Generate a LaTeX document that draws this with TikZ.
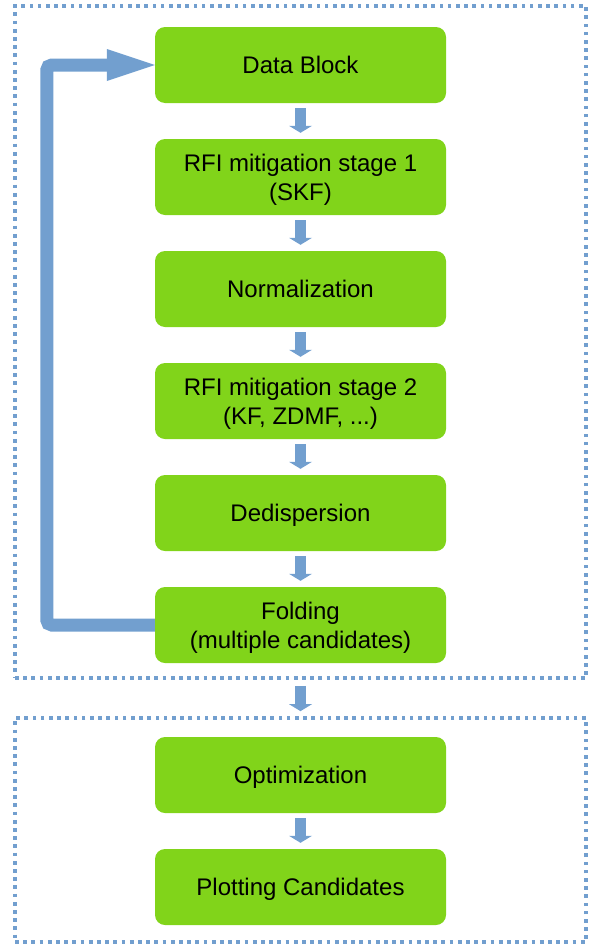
\documentclass[tikz,border=0pt]{standalone}
\usepackage{fontspec}
\setmainfont{Liberation Sans}
\usetikzlibrary{arrows.meta}
\definecolor{stagegreen}{HTML}{81D41A}
\definecolor{flowblue}{HTML}{729FCF}
% centred stage label, lines 29.5pt apart, inked 3pt below its nominal place
\newcommand\stagelabel[1]{\raisebox{-3pt}[\height][\depth]{\begin{tabular}{@{}c@{}}#1\end{tabular}}}

\begin{document}
\begin{tikzpicture}[x=1pt,y=-1pt,
  stagebox/.style={fill=stagegreen, rounded corners=10pt, minimum width=291pt,
    minimum height=76pt, inner sep=0pt,
    font=\fontsize{24}{29.5}\selectfont},
  groupframe/.style={draw=flowblue, line width=3.7pt, dash pattern=on 3.7pt off 4.5pt,
    inner sep=0pt},
  stepflow/.style={draw=flowblue, line width=11pt,
    -{Triangle[length=7pt,width=23pt,line width=0pt]}, shorten <=5pt, shorten >=6pt},
  loopflow/.style={draw=flowblue, line width=13pt, rounded corners=5pt,
    -{Triangle[length=48pt,width=32pt,line width=0pt]}},
]
\useasboundingbox (0,0) rectangle (594,945);

% processing pipeline and post-processing frames
\node[groupframe, minimum width=571pt, minimum height=672pt] (pipe) at (300.5,342) {};
\node[groupframe, minimum width=571pt, minimum height=224pt] (post) at (300.5,830) {};

% stages
\node[stagebox] (data) at (300.5,65)  {\stagelabel{Data Block}};
\node[stagebox] (rfi1) at (300.5,177) {\stagelabel{RFI mitigation stage 1\\(SKF)}};
\node[stagebox] (norm) at (300.5,289) {\stagelabel{Normalization}};
\node[stagebox] (rfi2) at (300.5,401) {\stagelabel{RFI mitigation stage 2\\(KF, ZDMF, ...)}};
\node[stagebox] (dedi) at (300.5,513) {\stagelabel{Dedispersion}};
\node[stagebox] (fold) at (300.5,625) {\stagelabel{Folding\\(multiple candidates)}};
\node[stagebox] (opti) at (300.5,775) {\stagelabel{Optimization}};
\node[stagebox] (plot) at (300.5,887) {\stagelabel{Plotting Candidates}};

% flow between stages
\draw[stepflow] (data) -- (rfi1);
\draw[stepflow] (rfi1) -- (norm);
\draw[stepflow] (norm) -- (rfi2);
\draw[stepflow] (rfi2) -- (dedi);
\draw[stepflow] (dedi) -- (fold);
\draw[stepflow, shorten <=6pt, shorten >=5pt] (pipe.south) -- (post.north);
\draw[stepflow] (opti) -- (plot);

% loop back to the next data block
\draw[loopflow] (fold.west) -- ++(-108,0) |- (data.west);
\end{tikzpicture}
\end{document}
